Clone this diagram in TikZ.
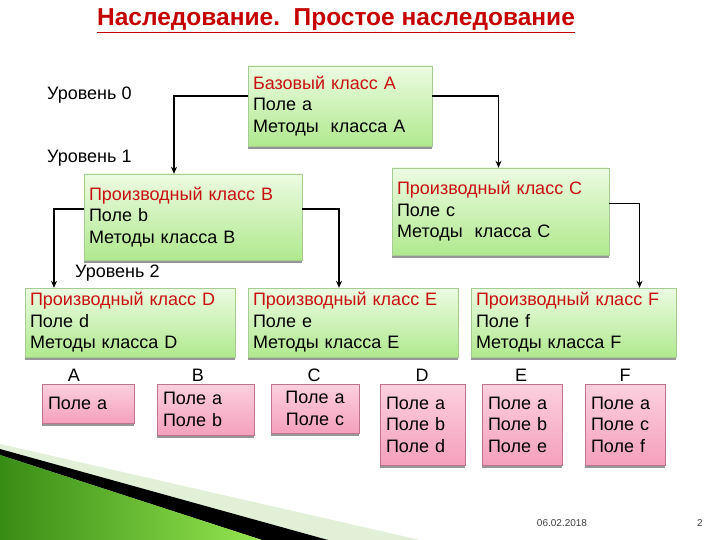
\documentclass[tikz,border=0pt]{standalone}
\usepackage{fontspec}
\setmainfont{Liberation Sans}
\usetikzlibrary{positioning,arrows.meta,shadows}
\definecolor{boxtop}{RGB}{236,251,226}
\definecolor{boxbot}{RGB}{176,233,142}
\definecolor{boxline}{RGB}{165,205,145}
\definecolor{pinktop}{RGB}{252,208,222}
\definecolor{pinkbot}{RGB}{244,160,188}
\definecolor{pinkline}{RGB}{190,115,145}
\definecolor{headred}{RGB}{200,16,16}
\definecolor{titlered}{RGB}{196,0,0}
\definecolor{shade}{RGB}{150,150,150}
\definecolor{leafdark}{RGB}{55,140,20}
\definecolor{leaflight}{RGB}{150,230,80}
\definecolor{leaffaint}{RGB}{225,240,215}

\begin{document}
\begin{tikzpicture}[x=1pt,y=-1pt,font=\fontsize{18}{21.5}\selectfont,
  classbox/.style={draw=boxline, top color=boxtop, bottom color=boxbot, align=left,
    inner xsep=5pt, inner ysep=0pt,
    drop shadow={shadow xshift=0pt, shadow yshift=-3pt, fill=shade, opacity=1}},
  fieldbox/.style={draw=pinkline, top color=pinktop, bottom color=pinkbot, align=left,
    inner xsep=6pt, inner ysep=0pt,
    drop shadow={shadow xshift=0pt, shadow yshift=-3pt, fill=shade, opacity=1}},
  conn/.style={line width=1.8pt, -{Stealth[length=7pt,width=6pt]}}]
\useasboundingbox (0,0) rectangle (720,540);

% bottom corner wedge
\fill[leaffaint] (0,444) -- (420,540) -- (0,540) -- cycle;
\fill[black] (0,449) -- (328,540) -- (262,540) -- (0,455) -- cycle;
\shade[left color=leafdark, right color=leaflight] (0,455) -- (262,540) -- (0,540) -- cycle;

\node[font=\fontsize{24.5}{27}\selectfont\bfseries, text=titlered] (title) at (336,21)
  {\underline{Наследование.\ \ Простое наследование}};

% levels
\node[anchor=west, inner sep=0pt] (lev0) at (47,95) {Уровень 0};
\node[anchor=west, inner sep=0pt] (lev1) at (47,158) {Уровень 1};
\node[anchor=west, inner sep=0pt] (lev2) at (75,273) {Уровень 2};

% classes
\node[classbox, text width=174pt, minimum height=80pt] (A) at (340,106)
  {{\color{headred}Базовый класс A}\\Поле a\\Методы\ \ класса A};
\node[classbox, text width=208pt, minimum height=86pt] (B) at (193,217)
  {{\color{headred}Производный класс B}\\Поле b\\Методы класса B};
\node[classbox, text width=207pt, minimum height=87pt] (C) at (500.5,211.5)
  {{\color{headred}Производный класс C}\\Поле c\\Методы\ \ класса C};
\node[classbox, text width=200pt, minimum height=69pt] (D) at (130,322.5)
  {{\color{headred}Производный класс D}\\Поле d\\Методы класса D};
\node[classbox, text width=200pt, minimum height=69pt] (E) at (353,322.5)
  {{\color{headred}Производный класс E}\\Поле e\\Методы класса E};
\node[classbox, text width=195pt, minimum height=69pt] (F) at (573.5,322.5)
  {{\color{headred}Производный класс F}\\Поле f\\Методы класса F};

\draw[conn] ([yshift=10pt]A.west) -| ([xshift=-19pt]B.north);
\draw[conn] ([yshift=10pt]A.east) -| ([xshift=-2pt]C.north);
\draw[conn] ([yshift=8pt]B.west) -| ([xshift=-76pt]D.north);
\draw[conn] ([yshift=8pt]B.east) -| ([xshift=-14pt]E.north);
\draw[conn] ([yshift=8pt]C.east) -| ([xshift=66pt]F.north);

% fields of each class
\node[fieldbox, text width=80pt, minimum height=39pt] (pa) at (88,403.5) {Поле a};
\node[fieldbox, text width=85pt, minimum height=51pt] (pb) at (205.5,409.5) {Поле a\\Поле b};
\node[fieldbox, text width=76pt, minimum height=49pt, align=center] (pc) at (315,408.5) {Поле a\\Поле c};
\node[fieldbox, text width=73pt, minimum height=81pt] (pd) at (422.5,424.5) {Поле a\\Поле b\\Поле d};
\node[fieldbox, text width=68pt, minimum height=81pt] (pe) at (522,424.5) {Поле a\\Поле b\\Поле e};
\node[fieldbox, text width=68pt, minimum height=81pt] (pf) at (625,424.5) {Поле a\\Поле c\\Поле f};
\foreach \t/\x in {A/74,B/198,C/314,D/422,E/521,F/625}
  \node (l\t) at (\x,375) {\t};

\node[font=\fontsize{10}{12}\selectfont, text=black!75] (date) at (562,523) {06.02.2018};
\node[font=\fontsize{10}{12}\selectfont, text=black!75] (page) at (700,523) {2};
\end{tikzpicture}
\end{document}
